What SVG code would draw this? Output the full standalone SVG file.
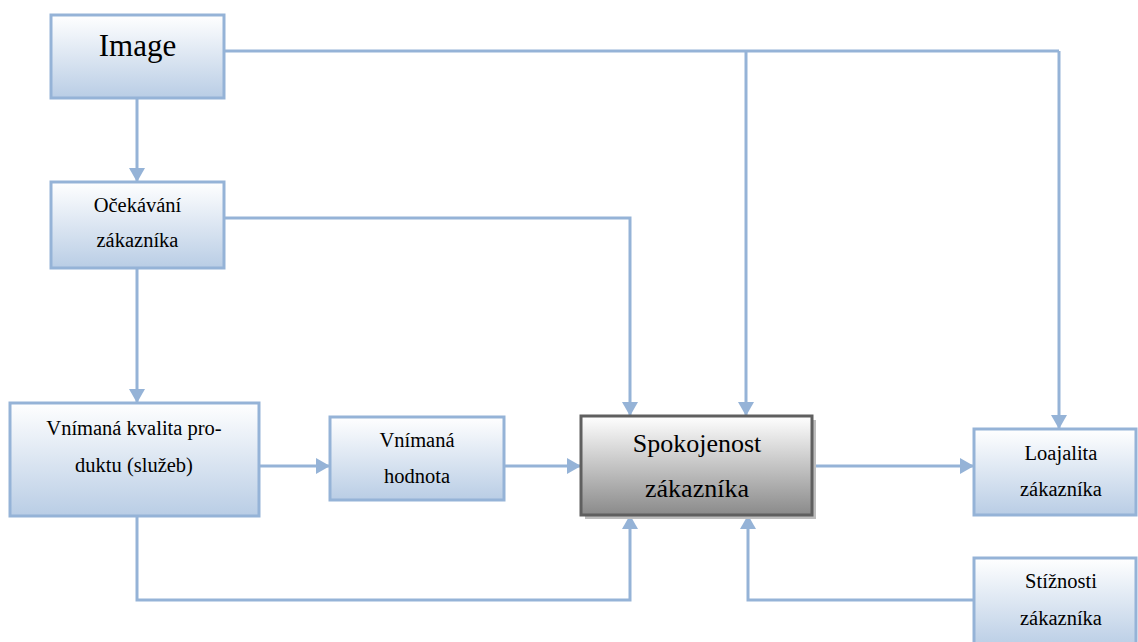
<svg xmlns="http://www.w3.org/2000/svg" width="1138" height="642" viewBox="0 0 1138 642">
<defs>
<linearGradient id="gb" x1="0" y1="0" x2="0" y2="1">
<stop offset="0" stop-color="#ffffff"/>
<stop offset="1" stop-color="#b9cde5"/>
</linearGradient>
<linearGradient id="gg" x1="0" y1="0" x2="0" y2="1">
<stop offset="0" stop-color="#ffffff"/>
<stop offset="1" stop-color="#8a8a8a"/>
</linearGradient>
<marker id="ah" markerUnits="userSpaceOnUse" markerWidth="16" markerHeight="16" viewBox="0 0 14 16" refX="14" refY="8" orient="auto">
<path d="M0,0 L14,8 L0,16 Z" fill="#95b3d7"/>
</marker>
</defs>
<style>
.box{fill:url(#gb);stroke:#95b3d7;stroke-width:3}
.main{fill:url(#gg);stroke:#5f5f5f;stroke-width:3}
.t{font-family:'Liberation Serif','DejaVu Serif',serif;font-size:20.5px;fill:#000;text-anchor:middle}
.c{fill:none;stroke:#95b3d7;stroke-width:3}
.ca{fill:none;stroke:#95b3d7;stroke-width:3;marker-end:url(#ah)}
</style>
<g id="connectors">
<path class="c" d="M224,51 H1059"/>
<path class="ca" d="M1059,51 V429"/>
<path class="ca" d="M746,51 V416"/>
<path class="ca" d="M137,98 V182"/>
<path class="ca" d="M224,218 H630 V416"/>
<path class="ca" d="M137,268 V403"/>
<path class="ca" d="M259,466 H330"/>
<path class="ca" d="M504,466 H581"/>
<path class="ca" d="M812,466 H974"/>
<path class="ca" d="M137,516 V600 H630 V515"/>
<path class="ca" d="M974,600 H748 V515"/>
</g>
<g font-family="Liberation Serif, DejaVu Serif, serif">
<g id="image">
<rect class="box" x="51" y="15" width="173" height="83"/>
<text class="t" x="137.5" y="56" font-family="Liberation Serif, serif" style="font-size:31px">Image</text>
</g>
<g id="ocekavani">
<rect class="box" x="51" y="182" width="173" height="86"/>
<text class="t" x="137.5" y="212">Očekávání</text>
<text class="t" x="137.5" y="247">zákazníka</text>
</g>
<g id="kvalita">
<rect class="box" x="10" y="403" width="249" height="113"/>
<text class="t" x="134" y="435">Vnímaná kvalita pro-</text>
<text class="t" x="134" y="472">duktu (služeb)</text>
</g>
<g id="hodnota">
<rect class="box" x="330" y="417" width="174" height="83"/>
<text class="t" x="417" y="447">Vnímaná</text>
<text class="t" x="417" y="483">hodnota</text>
</g>
<g id="spokojenost">
<rect x="585" y="420" width="231" height="99" fill="#bdbdbd"/>
<rect class="main" x="581" y="416" width="231" height="99"/>
<text class="t" x="697" y="452" style="font-size:26px">Spokojenost</text>
<text class="t" x="697" y="497" style="font-size:26px">zákazníka</text>
</g>
<g id="loajalita">
<rect class="box" x="974" y="429" width="162" height="86"/>
<text class="t" x="1061" y="460">Loajalita</text>
<text class="t" x="1061" y="496">zákazníka</text>
</g>
<g id="stiznosti">
<rect class="box" x="974" y="558" width="162" height="90"/>
<text class="t" x="1061" y="588">Stížnosti</text>
<text class="t" x="1061" y="625">zákazníka</text>
</g>
</g>
</svg>
